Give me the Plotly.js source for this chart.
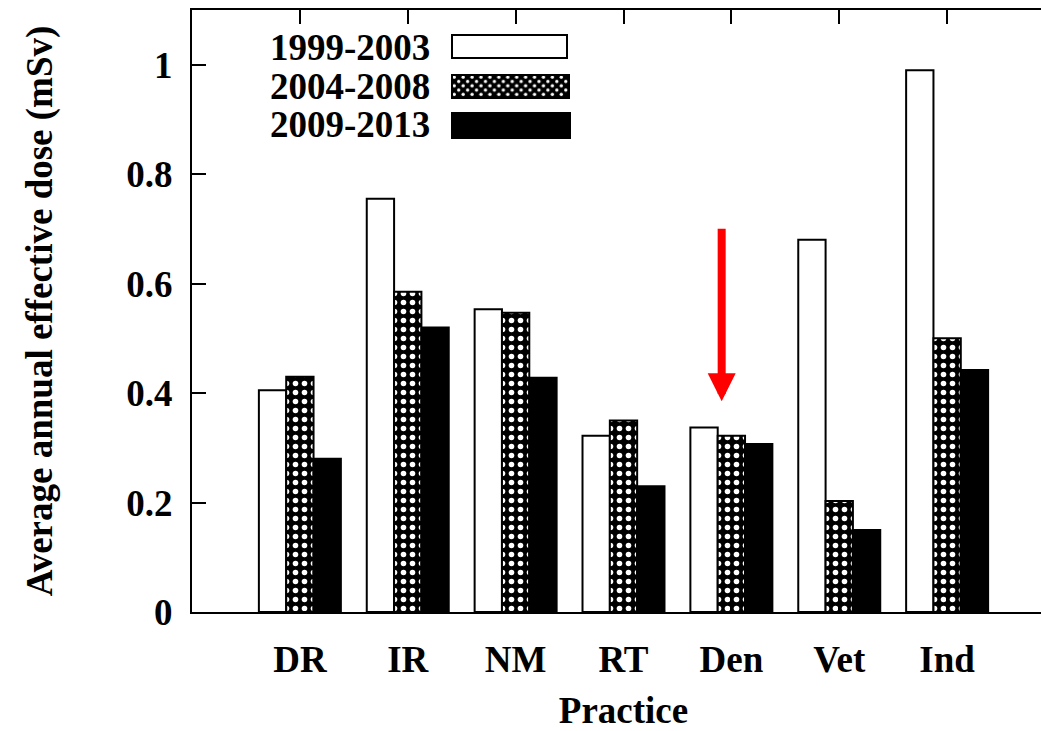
<!DOCTYPE html>
<html><head><meta charset="utf-8">
<script src="https://cdn.plot.ly/plotly-3.0.1.min.js"></script>
<style>html,body{margin:0;padding:0;overflow:hidden;background:#fff}#chart{width:1055px;height:731px}</style>
</head><body><div id="chart"></div>
<script>
const categories = ["DR","IR","NM","RT","Den","Vet","Ind"];
const period1 = [0.405,0.755,0.553,0.322,0.337,0.680,0.990];
const period2 = [0.430,0.585,0.547,0.350,0.322,0.203,0.500];
const period3 = [0.280,0.520,0.428,0.230,0.307,0.150,0.442];
const seriesNames = ["1999-2003","2004-2008","2009-2013"];
const yTicks = [0,0.2,0.4,0.6,0.8,1];
const yTickText = ["0","0.2","0.4","0.6","0.8","1"];

const FONT = "Liberation Serif, Times New Roman, serif";
const W = 1055, H = 731, ML = 192, MR = 0, MT = 10, MB = 119;
const px = v => (v - ML) / (W - ML - MR);
const py = v => (H - MB - v) / (H - MT - MB);

const traces = [
  {type:'bar', name:seriesNames[0], x:categories, y:period1,
   marker:{color:'white', line:{color:'black', width:2}}},
  {type:'bar', name:seriesNames[1], x:categories, y:period2,
   marker:{color:'black', line:{color:'black', width:2},
     pattern:{shape:'.', bgcolor:'black', fgcolor:'white', size:9, solidity:0.3, fillmode:'replace'}}},
  {type:'bar', name:seriesNames[2], x:categories, y:period3,
   marker:{color:'black', line:{color:'black', width:2}}}
];

const patSvg = '<svg xmlns="http://www.w3.org/2000/svg" width="118" height="24">' +
  '<defs><pattern id="p" width="9" height="9" patternUnits="userSpaceOnUse">' +
  '<rect width="9" height="9" fill="black"/>' +
  '<circle cx="2.25" cy="2.25" r="1.7" fill="white"/>' +
  '<circle cx="6.75" cy="6.75" r="1.7" fill="white"/></pattern></defs>' +
  '<rect width="118" height="24" fill="url(#p)"/></svg>';
const patUri = 'data:image/svg+xml;base64,' + btoa(patSvg);

const legendRows = [47, 86, 125];
const annotations = seriesNames.map((n,i)=>({
  xref:'paper', yref:'paper', x:px(432), y:py(legendRows[i]), xanchor:'right', yanchor:'middle',
  text:n, showarrow:false, font:{family:FONT, size:37, color:'black', weight:'bold'}
}));
annotations.push({
  x:3.91, y:0.385, xref:'x', yref:'y', ax:0, ay:-174, axref:'pixel', ayref:'pixel',
  showarrow:true, arrowcolor:'#ff0000', arrowwidth:8, arrowhead:2, arrowsize:0.7, text:''
});

const shapes = [
  {type:'rect', xref:'paper', yref:'paper', x0:px(452), x1:px(567), y0:py(35), y1:py(58),
   fillcolor:'white', line:{color:'black', width:2}},
  {type:'rect', xref:'paper', yref:'paper', x0:px(452), x1:px(569), y0:py(75), y1:py(98),
   fillcolor:'rgba(0,0,0,0)', line:{color:'black', width:2}},
  {type:'rect', xref:'paper', yref:'paper', x0:px(452), x1:px(570), y0:py(113), y1:py(138),
   fillcolor:'black', line:{color:'black', width:2}}
];

const layout = {
  width:W, height:H, margin:{l:ML, r:MR, t:MT, b:MB, pad:0},
  paper_bgcolor:'white', plot_bgcolor:'white', showlegend:false,
  barmode:'group', bargap:0.24, bargroupgap:0,
  font:{family:FONT, color:'black'},
  xaxis:{type:'category', range:[-1,7], showgrid:false, zeroline:false,
    showline:true, linecolor:'black', linewidth:2, mirror:'ticks',
    ticks:'inside', ticklen:14, tickwidth:2, tickcolor:'black', ticklabelstandoff:14,
    tickfont:{family:FONT, size:37, weight:'bold'},
    title:{text:'Practice', font:{family:FONT, size:37, weight:'bold'}, standoff:24}},
  yaxis:{range:[0,1.1], showgrid:false, zeroline:false,
    showline:true, linecolor:'black', linewidth:2, mirror:'ticks',
    ticks:'inside', ticklen:14, tickwidth:2, tickcolor:'black', ticklabelstandoff:10,
    tickvals:yTicks, ticktext:yTickText,
    tickfont:{family:FONT, size:37, weight:'bold'},
    title:{text:'Average annual effective dose (mSv)', font:{family:FONT, size:37, weight:'bold'}, standoff:62}},
  annotations:annotations, shapes:shapes,
  images:[{source:patUri, xref:'paper', yref:'paper', x:px(452), y:py(75),
    sizex:px(569)-px(452), sizey:py(75)-py(98), sizing:'stretch',
    xanchor:'left', yanchor:'top', layer:'above'}]
};

Plotly.newPlot('chart', traces, layout, {displayModeBar:false, staticPlot:true});
</script></body></html>
